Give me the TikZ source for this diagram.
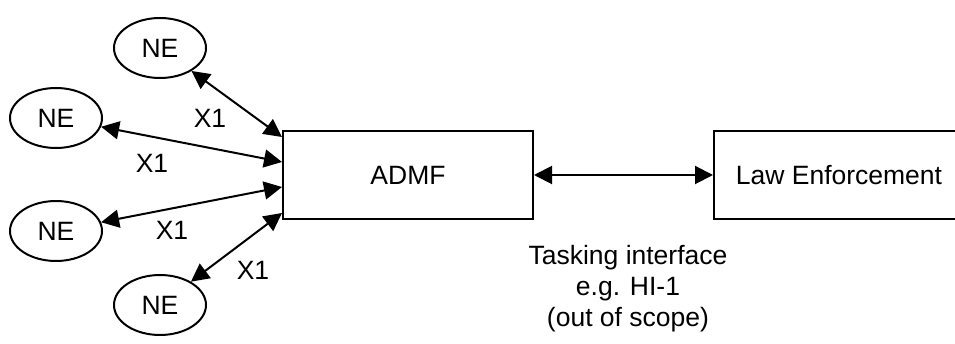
\documentclass[tikz,border=0pt]{standalone}
\usepackage{fontspec}
\setmainfont{Liberation Sans}
\usetikzlibrary{arrows.meta,shapes.geometric,positioning}
\begin{document}
\begin{tikzpicture}[x=1pt,y=-1pt,
		every node/.style={font=\fontsize{26.5}{31}\selectfont},
		ne/.style={draw, ellipse, line width=2pt, minimum width=92pt, minimum height=60pt, inner sep=0pt},
		box/.style={draw, rectangle, line width=2pt, minimum width=250pt, minimum height=88pt, inner sep=0pt},
		link/.style={line width=2pt, {Triangle[length=18pt,width=18pt]}-{Triangle[length=18pt,width=18pt]}}]
		\clip (0,0) rectangle (955,344);

		% the two boxes
		\node[box] (admf) at (408,175) {ADMF};
		\node[box] (law) at (839,175) {Law Enforcement};

		% the network elements round the ADMF
		\node[ne] (ne1) at (160,48) {NE};
		\node[ne] (ne2) at (56,118) {NE};
		\node[ne] (ne3) at (56,231) {NE};
		\node[ne] (ne4) at (160,305) {NE};

		% where the X1 links meet the ADMF
		\coordinate (p1) at ([yshift=38pt]admf.west);
		\coordinate (p2) at ([yshift=13pt]admf.west);
		\coordinate (p3) at ([yshift=-12pt]admf.west);
		\coordinate (p4) at ([yshift=-38pt]admf.west);

		% draw the X1 links
		\draw[link] (ne1) -- (p1);
		\draw[link] (ne2) -- (p2);
		\draw[link] (ne3) -- (p3);
		\draw[link] (ne4) -- (p4);
		\node (x1a) at (210,118) {X1};
		\node (x1b) at (152,163) {X1};
		\node (x1c) at (172,230) {X1};
		\node (x1d) at (253,270) {X1};

		% draw the tasking interface
		\draw[link] (admf) -- (law);
		\node[align=center] (task) at (628,289) {Tasking interface\\e.g. HI-1\\(out of scope)};
	\end{tikzpicture}
\end{document}
